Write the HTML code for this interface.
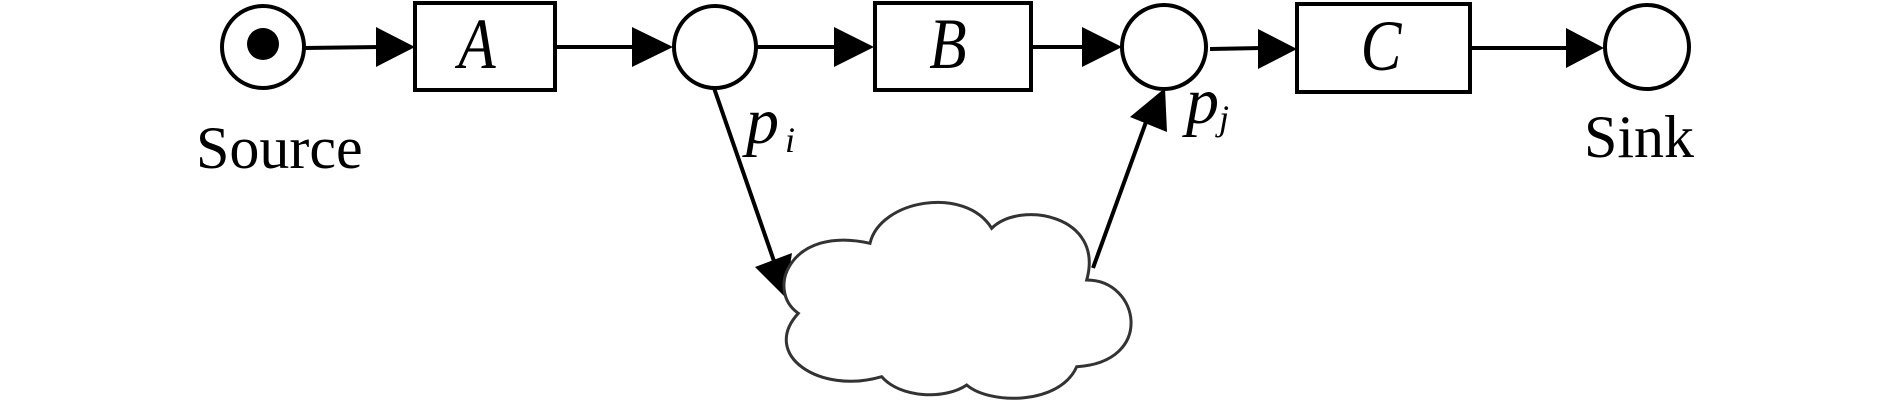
<!DOCTYPE html>
<html><head><meta charset="utf-8"><style>
html,body{margin:0;padding:0;background:#fff;}
svg{display:block;}
text{font-family:"Liberation Serif",serif;fill:#000;}
</style></head><body>
<svg width="1890" height="400" viewBox="0 0 1890 400" xmlns="http://www.w3.org/2000/svg">
<g stroke="#000" stroke-width="4" fill="none">
  <circle cx="263" cy="47" r="41"/>
  <rect x="415" y="3" width="140" height="87"/>
  <circle cx="715" cy="47" r="41"/>
  <rect x="875" y="3" width="156" height="87"/>
  <circle cx="1164" cy="47" r="42"/>
  <rect x="1297" y="4" width="173" height="88"/>
  <circle cx="1647" cy="47" r="42"/>
  <line x1="304" y1="48" x2="380" y2="47"/>
  <line x1="555" y1="47" x2="636" y2="47"/>
  <line x1="757" y1="47" x2="838" y2="47"/>
  <line x1="1031" y1="47" x2="1086" y2="47"/>
  <line x1="1210" y1="49" x2="1262" y2="48"/>
  <line x1="1470" y1="48" x2="1570" y2="48"/>
  <line x1="714" y1="88" x2="775" y2="264"/>
  <line x1="1093" y1="268" x2="1146" y2="122"/>
</g>
<circle cx="263" cy="44" r="16" fill="#000"/>
<g fill="#000">
  <polygon points="376,27 415,47 376,67"/>
  <polygon points="632,27 673,47 632,67"/>
  <polygon points="834,27 874,47 834,67"/>
  <polygon points="1082,27 1122,47 1082,67"/>
  <polygon points="1258,29 1297,49 1258,69"/>
  <polygon points="1566,28 1604,48 1566,68"/>
  <polygon points="755,267 792,253 785,297"/>
  <polygon points="1130,117 1167,132 1165,88"/>
</g>
<path d="M798.3,313.3 C765,290 790,225 870,243.3 C880,200 965,185 991.7,228.3 C1020,200 1105,215 1086.7,280 C1140,280 1155,362 1076.7,366.7 C1060,405 990,405 966.7,385 C945,400 900,398 881.7,376.7 C820,395 760,355 798.3,313.3 Z" fill="#fff" stroke="#333" stroke-width="3"/>
<text transform="translate(477,68) scale(0.85,1)" font-size="72" font-style="italic" text-anchor="middle">A</text>
<text transform="translate(948,68) scale(0.85,1)" font-size="72" font-style="italic" text-anchor="middle">B</text>
<text transform="translate(1381,70) scale(0.85,1)" font-size="72" font-style="italic" text-anchor="middle">C</text>
<text x="196" y="168" font-size="60">Source</text>
<text x="1584" y="157" font-size="60">Sink</text>
<text x="746" y="143" font-size="66" font-style="italic">p</text>
<text x="785" y="152" font-size="36" font-style="italic">i</text>
<text x="1186" y="123" font-size="66" font-style="italic">p</text>
<text x="1219" y="130" font-size="36" font-style="italic">j</text>
</svg>
</body></html>
